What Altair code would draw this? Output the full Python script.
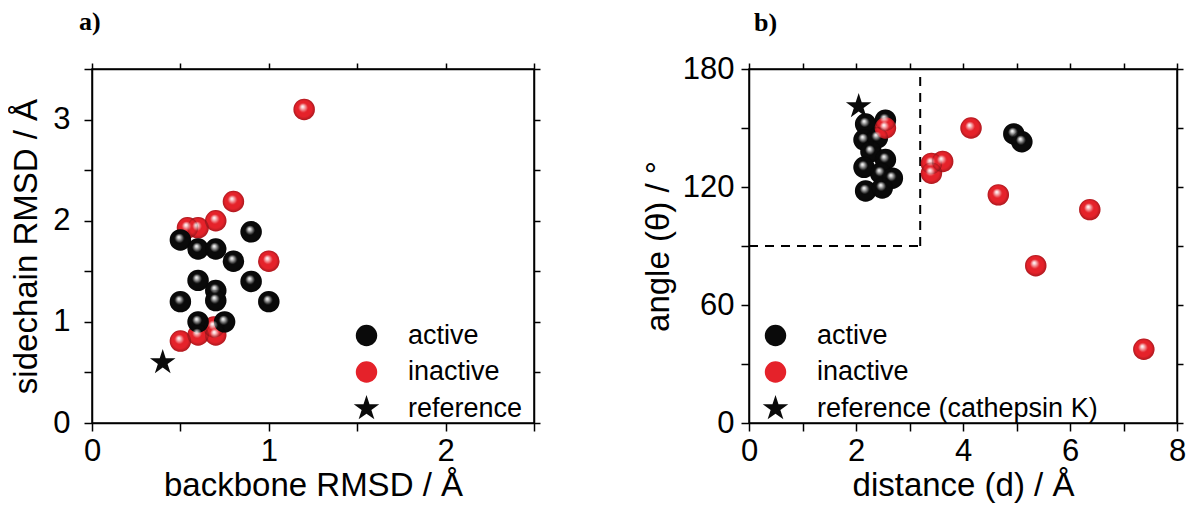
import altair as alt
import pandas as pd

# ---------------- data ----------------
groups = ["active", "inactive", "reference"]
groups_b = ["active", "inactive", "reference (cathepsin K)"]

# panel a
a_inactive_x = [1.2, 0.8, 0.7, 0.6, 0.54, 1.0, 0.5, 0.6, 0.7, 0.69]
a_inactive_y = [3.1, 2.19, 2.0, 1.93, 1.93, 1.6, 0.81, 0.87, 0.87, 0.95]
a_active_x = [0.5, 0.6, 0.7, 0.8, 0.9, 0.6, 0.9, 0.7, 0.5, 0.7, 1.0, 0.6, 0.75]
a_active_y = [1.81, 1.72, 1.72, 1.6, 1.89, 1.41, 1.4, 1.31, 1.2, 1.21, 1.2, 1.0, 1.0]
a_ref_x = [0.4]
a_ref_y = [0.6]

# panel b
b_active_x = [2.18, 2.55, 2.15, 2.4, 2.28, 2.15, 2.55, 2.46, 2.68, 2.18, 2.49, 4.95, 5.1]
b_active_y = [152, 154, 144, 145, 138, 130, 134, 127, 124.5, 118, 119.5, 147, 143]
b_inactive_x = [2.55, 4.15, 3.41, 3.62, 3.41, 4.66, 6.37, 5.36, 7.38]
b_inactive_y = [150, 150, 132, 133, 127, 116, 108.5, 80, 37.5]
b_ref_x = [2.05]
b_ref_y = [161]

# dashed box in panel b
box_x = [0, 3.2]
box_x2 = [3.2, 3.2]
box_y = [90, 90]
box_y2 = [90, 180]

a_x_ticks = [0, 0.5, 1, 1.5, 2, 2.5]
a_y_ticks = [0, 0.5, 1, 1.5, 2, 2.5, 3, 3.5]
b_x_ticks = [0, 1, 2, 3, 4, 5, 6, 7, 8]
b_y_ticks = [0, 30, 60, 90, 120, 150, 180]

STAR = ("M0,-1.25L0.281,-0.386L1.189,-0.386L0.454,0.148L0.735,1.011L0,0.478"
        "L-0.735,1.011L-0.454,0.148L-1.189,-0.386L-0.281,-0.386Z")
RED = "#e5222a"
BLACK = "#0a0a0a"
FONT = "Liberation Sans"
PT = 460


def frame(xs, ys, grp):
    return pd.DataFrame({"x": xs, "y": ys, "group": [grp] * len(xs)})


df_a = pd.concat([
    frame(a_inactive_x, a_inactive_y, groups[1]),
    frame(a_active_x, a_active_y, groups[0]),
    frame(a_ref_x, a_ref_y, groups[2]),
], ignore_index=True)

df_b = pd.concat([
    frame(b_active_x, b_active_y, groups_b[0]),
    frame(b_inactive_x, b_inactive_y, groups_b[1]),
    frame(b_ref_x, b_ref_y, groups_b[2]),
], ignore_index=True)

df_box = pd.DataFrame({"x": box_x, "x2": box_x2, "y": box_y, "y2": box_y2})

shine = alt.RadialGradient(
    gradient="radial",
    x1=0.42, y1=0.36, r1=0.0,
    x2=0.5, y2=0.5, r2=0.5,
    stops=[
        alt.GradientStop(color="rgba(255,255,255,1)", offset=0.0),
        alt.GradientStop(color="rgba(255,255,255,0.85)", offset=0.1),
        alt.GradientStop(color="rgba(255,255,255,0)", offset=0.45),
        alt.GradientStop(color="rgba(0,0,0,0)", offset=0.75),
        alt.GradientStop(color="rgba(0,0,0,0.25)", offset=1.0),
    ],
)


def panel(df, grp_names, xdom, ydom, xticks, yticks, xlabel_mod, ylabel_mod,
          xtitle, ytitle, title, title_dx, title_dy, legend_x, width,
          ylab_pad, ytitle_pad, extra=None):
    lab_x = f"datum.value % {xlabel_mod} == 0 ? format(datum.value, 'd') : ''"
    lab_y = f"datum.value % {ylabel_mod} == 0 ? format(datum.value, 'd') : ''"
    xs = alt.Scale(domain=xdom, nice=False, zero=False)
    ys = alt.Scale(domain=ydom, nice=False, zero=False)
    x_axis = alt.Axis(orient="bottom", values=xticks, labelExpr=lab_x, title=xtitle, grid=False,
                      tickSize=8, labelPadding=5, titlePadding=3, labelFlush=False)
    y_axis = alt.Axis(orient="left", values=yticks, labelExpr=lab_y, title=ytitle, grid=False,
                      tickSize=8, labelPadding=ylab_pad, titlePadding=ytitle_pad, labelFlush=False)
    base = alt.Chart(df)
    pts = base.mark_point(filled=True, opacity=1, size=PT).encode(
        x=alt.X("x:Q", scale=xs, axis=x_axis),
        y=alt.Y("y:Q", scale=ys, axis=y_axis),
        color=alt.Color("group:N", scale=alt.Scale(domain=grp_names, range=[BLACK, RED, BLACK]),
                        legend=alt.Legend(title=None, orient="none", legendX=legend_x, legendY=253,
                                          labelFontSize=27, labelFont=FONT, labelColor="black",
                                          symbolSize=PT, symbolStrokeWidth=0, rowPadding=8.5,
                                          labelOffset=28, symbolOpacity=1, labelLimit=500)),
        shape=alt.Shape("group:N", scale=alt.Scale(domain=grp_names, range=["circle", "circle", STAR]),
                        legend=alt.Legend(title=None, orient="none", legendX=legend_x, legendY=253)),
    )
    hi = base.transform_filter(alt.datum.group != grp_names[2]).mark_circle(
        fill=shine, opacity=1, size=PT, strokeWidth=0
    ).encode(
        x=alt.X("x:Q", scale=xs, axis=alt.Axis(orient="top", values=xticks, labels=False, title=None,
                                               grid=False, tickSize=6)),
        y=alt.Y("y:Q", scale=ys, axis=alt.Axis(orient="right", values=yticks, labels=False, title=None,
                                               grid=False, tickSize=6)),
    )
    layers = []
    if extra is not None:
        layers.append(extra)
    layers += [pts, hi]
    ch = alt.layer(*layers).resolve_axis(x="independent", y="independent").properties(
        width=width, height=354,
        title=alt.TitleParams(title, anchor="start", frame="group", font="Liberation Serif",
                              fontSize=26, fontWeight="bold", dx=title_dx, dy=title_dy,
                              offset=17, color="black"),
    )
    return ch


rules = alt.Chart(df_box).mark_rule(strokeDash=[9, 7], strokeWidth=2, color="black").encode(
    x=alt.X("x:Q", axis=None), x2="x2:Q", y=alt.Y("y:Q", axis=None), y2="y2:Q"
)

chart_a = panel(df_a, groups, [0, 2.5], [0, 3.5], a_x_ticks, a_y_ticks, 1, 1,
                "backbone RMSD / Å", "sidechain RMSD / Å", "a)", -13, -10, 261, 442,
                14, 9)
chart_b = panel(df_b, groups_b, [0, 8], [0, 180], b_x_ticks, b_y_ticks, 2, 60,
                "distance (d) / Å", "angle (θ) / °", "b)", 5, 0, 13, 428,
                7, 7, extra=rules)

chart = alt.hconcat(chart_a, chart_b, spacing=99).resolve_scale(
    color="independent", shape="independent", x="independent", y="independent"
).configure_axis(
    labelFont=FONT, titleFont=FONT, labelFontSize=31, titleFontSize=33,
    titleFontWeight="normal", labelColor="black", titleColor="black",
    domainColor="black", tickColor="black", domainWidth=1.5, tickWidth=1.5,
).configure_view(stroke="black", strokeWidth=1.5).properties(
    padding={"left": 2, "top": 0, "right": 0, "bottom": 0}
)

chart.save("out.html", embed_options={"renderer": "svg", "actions": False})
